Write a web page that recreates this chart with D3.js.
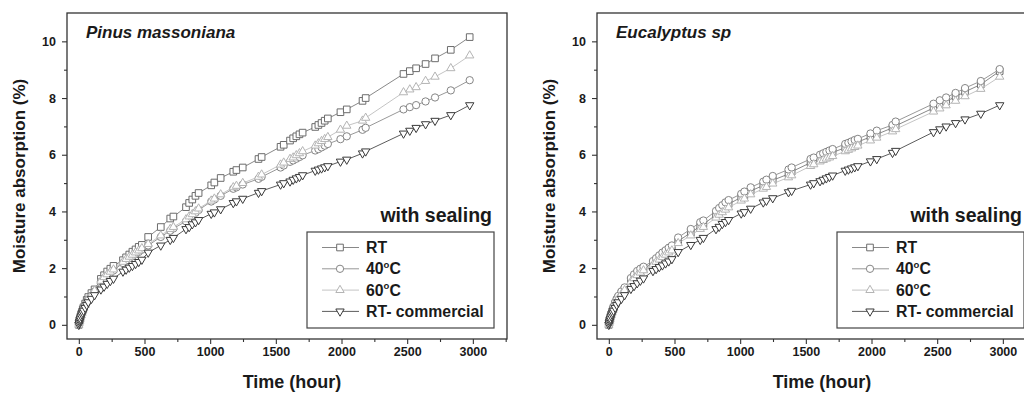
<!DOCTYPE html>
<html><head><meta charset="utf-8">
<script src="https://cdn.jsdelivr.net/npm/d3@7"></script>
<style>
body{margin:0;background:#fff}
svg{display:block}
text{font-family:Arial,"Liberation Sans",sans-serif;font-weight:bold;fill:#1a1a1a}
</style>
</head><body>
<svg id="chart" width="1024" height="399"></svg>
<script>
// ---------------- data ----------------
const times = [0,3,6,9,12,18,24,30,36,48,60,72,96,120,168,192,216,240,264,336,360,384,408,432,456,480,528,624,696,720,816,840,864,888,912,1008,1032,1080,1176,1200,1248,1368,1392,1536,1560,1608,1632,1656,1680,1704,1800,1824,1848,1872,1896,1992,2040,2160,2184,2472,2520,2568,2640,2712,2832,2976];

const pinusRT  = [0,0.08,0.15,0.22,0.28,0.38,0.46,0.55,0.62,0.75,0.88,0.98,1.12,1.25,1.62,1.75,1.88,1.98,2.08,2.28,2.38,2.48,2.58,2.66,2.75,2.82,3.1,3.45,3.75,3.82,4.15,4.3,4.42,4.55,4.65,4.92,5.02,5.18,5.4,5.46,5.55,5.85,5.92,6.28,6.35,6.5,6.58,6.65,6.72,6.78,6.98,7.05,7.12,7.2,7.28,7.5,7.6,7.9,8.0,8.85,8.95,9.05,9.2,9.4,9.7,10.15];
const pinus40  = [0,0.06,0.12,0.18,0.24,0.33,0.41,0.48,0.56,0.68,0.8,0.9,1.03,1.18,1.52,1.64,1.74,1.83,1.92,2.18,2.27,2.35,2.42,2.5,2.57,2.65,2.8,3.1,3.32,3.4,3.65,3.75,3.85,3.95,4.05,4.35,4.42,4.55,4.8,4.85,4.95,5.15,5.22,5.55,5.62,5.75,5.8,5.86,5.92,5.98,6.15,6.2,6.26,6.32,6.38,6.55,6.65,6.88,6.95,7.6,7.68,7.75,7.88,8.02,8.27,8.63];
const pinus60  = [0,0.07,0.13,0.19,0.25,0.34,0.42,0.5,0.58,0.7,0.82,0.92,1.05,1.2,1.55,1.68,1.78,1.87,1.95,2.22,2.32,2.4,2.47,2.55,2.62,2.7,2.85,3.15,3.38,3.45,3.72,3.82,3.9,4.0,4.1,4.38,4.45,4.6,4.85,4.9,5.0,5.22,5.3,5.65,5.72,5.85,5.9,5.98,6.05,6.12,6.32,6.4,6.48,6.55,6.62,6.88,7.02,7.2,7.3,8.2,8.3,8.38,8.6,8.75,9.05,9.5];
const pinusCom = [0,0.06,0.12,0.17,0.22,0.3,0.37,0.43,0.5,0.6,0.7,0.8,0.92,1.05,1.25,1.35,1.45,1.55,1.63,1.88,1.95,2.02,2.08,2.15,2.22,2.3,2.55,2.8,3.0,3.07,3.38,3.45,3.55,3.62,3.7,3.92,3.97,4.08,4.3,4.36,4.45,4.66,4.72,4.95,5.0,5.06,5.12,5.17,5.22,5.28,5.44,5.48,5.52,5.56,5.6,5.76,5.83,6.05,6.12,6.75,6.85,6.95,7.08,7.2,7.4,7.75];

const eucRT  = [0,0.07,0.14,0.2,0.27,0.36,0.45,0.53,0.6,0.74,0.86,0.96,1.12,1.25,1.58,1.7,1.82,1.9,1.98,2.18,2.28,2.37,2.46,2.55,2.63,2.7,2.95,3.25,3.48,3.55,3.88,3.98,4.08,4.18,4.26,4.5,4.57,4.72,4.92,4.98,5.1,5.32,5.4,5.72,5.78,5.88,5.93,5.98,6.03,6.08,6.25,6.3,6.35,6.4,6.45,6.63,6.72,6.95,7.02,7.65,7.77,7.88,8.05,8.22,8.48,8.95];
const euc40  = [0,0.08,0.15,0.22,0.29,0.39,0.48,0.57,0.65,0.8,0.92,1.02,1.18,1.32,1.65,1.78,1.9,1.98,2.05,2.25,2.35,2.45,2.55,2.63,2.72,2.8,3.08,3.38,3.62,3.68,4.02,4.12,4.22,4.32,4.4,4.62,4.7,4.85,5.05,5.12,5.25,5.48,5.55,5.85,5.9,6.0,6.05,6.1,6.15,6.2,6.38,6.42,6.47,6.52,6.56,6.75,6.85,7.05,7.17,7.8,7.92,8.02,8.18,8.35,8.6,9.02];
const euc60  = [0,0.07,0.13,0.19,0.26,0.35,0.43,0.51,0.58,0.72,0.84,0.93,1.08,1.22,1.52,1.64,1.75,1.84,1.92,2.12,2.22,2.3,2.39,2.47,2.55,2.62,2.88,3.15,3.38,3.45,3.78,3.88,3.97,4.06,4.14,4.38,4.45,4.6,4.8,4.86,4.98,5.2,5.27,5.6,5.66,5.76,5.81,5.86,5.9,5.95,6.12,6.17,6.22,6.27,6.32,6.5,6.6,6.82,6.9,7.52,7.63,7.74,7.9,8.06,8.32,8.75];
const eucCom = [0,0.06,0.12,0.17,0.22,0.3,0.37,0.43,0.5,0.6,0.7,0.8,0.92,1.05,1.27,1.37,1.47,1.56,1.64,1.9,1.97,2.04,2.1,2.17,2.24,2.32,2.57,2.82,3.0,3.07,3.38,3.46,3.56,3.63,3.7,3.93,3.98,4.1,4.32,4.38,4.47,4.68,4.73,4.95,5.0,5.07,5.12,5.17,5.22,5.27,5.44,5.48,5.52,5.56,5.6,5.77,5.85,6.07,6.14,6.8,6.9,7.0,7.12,7.25,7.45,7.75];

const seriesNames = [["RT",""],["40","C"],["60","C"],["RT- commercial",""]];
const panelTitles = ["Pinus massoniana","Eucalyptus sp"];
const xTicks = [0,500,1000,1500,2000,2500,3000];
const xMinor = [250,750,1250,1750,2250,2750,3250];
const yTicks = [0,2,4,6,8,10];
const yMinor = [1,3,5,7,9];
const xTitle = "Time (hour)";
const yTitle = "Moisture absorption (%)";
const noteText = "with sealing";

// ---------------- styles ----------------
const styles = [
  {stroke:"#6c6c6c", line:"#7a7a7a", sym:d3.symbolSquare, size:44, rot:0},
  {stroke:"#858585", line:"#8c8c8c", sym:d3.symbolCircle, size:42, rot:0},
  {stroke:"#b4b4b4", line:"#bdbdbd", sym:d3.symbolTriangle, size:30, rot:0},
  {stroke:"#3a3a3a", line:"#4a4a4a", sym:d3.symbolTriangle, size:30, rot:180}
];

const svg = d3.select("#chart");
svg.append("rect").attr("width",1024).attr("height",399).attr("fill","#fff");

const panels = [
  {left:67, title:panelTitles[0], data:[pinusRT,pinus40,pinus60,pinusCom]},
  {left:597, title:panelTitles[1], data:[eucRT,euc40,euc60,eucCom]}
];
const plotW = 440, plotTop = 13, plotBottom = 339;

panels.forEach(p => {
  const g = svg.append("g");
  const x = d3.scaleLinear().domain([-90,3260]).range([p.left, p.left+plotW]);
  const y = d3.scaleLinear().domain([-0.5,11]).range([plotBottom, plotTop]);

  // axes
  const ax = g.append("g").attr("transform",`translate(0,${plotBottom})`)
    .call(d3.axisBottom(x).tickValues(xTicks).tickFormat(d3.format("d")).tickSize(5).tickPadding(3));
  ax.append("g").call(d3.axisBottom(x).tickValues(xMinor).tickSize(3).tickFormat(""));
  const ay = g.append("g").attr("transform",`translate(${p.left},0)`)
    .call(d3.axisLeft(y).tickValues(yTicks).tickFormat(d3.format("d")).tickSize(5).tickPadding(6));
  ay.append("g").call(d3.axisLeft(y).tickValues(yMinor).tickSize(3).tickFormat(""));
  g.selectAll(".domain").remove();
  g.selectAll(".tick line").attr("stroke","#333").attr("stroke-width",1.1);
  g.selectAll(".tick text").attr("font-size",12.5).attr("font-weight","bold")
    .attr("font-family","Arial, 'Liberation Sans', sans-serif").attr("fill","#1a1a1a");

  // frame
  g.append("rect").attr("x",p.left).attr("y",plotTop).attr("width",plotW).attr("height",plotBottom-plotTop)
    .attr("fill","none").attr("stroke","#333").attr("stroke-width",1.3);

  // series
  p.data.forEach((vals,si) => {
    const st = styles[si];
    const pts = times.map((t,i)=>[t, vals[i]]);
    g.append("path").datum(pts)
      .attr("d", d3.line().x(d=>x(d[0])).y(d=>y(d[1])))
      .attr("fill","none").attr("stroke",st.line).attr("stroke-width",0.9);
    const sym = d3.symbol().type(st.sym).size(st.size);
    g.selectAll(null).data(pts).join("path")
      .attr("d", sym)
      .attr("transform", d=>`translate(${x(d[0])},${y(d[1])}) rotate(${st.rot})`)
      .attr("fill","#fff").attr("stroke",st.stroke).attr("stroke-width",1);
  });

  // panel title
  g.append("text").attr("x",p.left+19).attr("y",38).attr("font-size",17)
    .attr("font-style","italic").text(p.title);

  // axis titles
  g.append("text").attr("x",p.left+225).attr("y",388).attr("text-anchor","middle")
    .attr("font-size",18).text(xTitle);
  g.append("text").attr("transform",`translate(${p.left-42},176) rotate(-90)`)
    .attr("text-anchor","middle").attr("font-size",17).text(yTitle);

  // note
  g.append("text").attr("x",p.left+425).attr("y",222).attr("text-anchor","end")
    .attr("font-size",19.5).text(noteText);

  // legend
  const lx = p.left+240, ly = 232;
  g.append("rect").attr("x",lx).attr("y",ly).attr("width",187).attr("height",96)
    .attr("fill","#fff").attr("stroke","#444").attr("stroke-width",1.2);
  seriesNames.forEach((nm,i) => {
    const st = styles[i];
    const cy = 247.5 + i*21.3;
    g.append("line").attr("x1",lx+15).attr("x2",lx+52).attr("y1",cy).attr("y2",cy)
      .attr("stroke",st.line).attr("stroke-width",0.9);
    g.append("path").attr("d", d3.symbol().type(st.sym).size(st.size)())
      .attr("transform",`translate(${lx+33},${cy}) rotate(${st.rot})`)
      .attr("fill","#fff").attr("stroke",st.stroke).attr("stroke-width",1);
    const t = g.append("text").attr("x",lx+59).attr("y",cy+5.5).attr("font-size",15.8);
    t.append("tspan").text(nm[0]);
    if (nm[1]) {
      t.append("tspan").attr("font-size",9.5).attr("dy",-6.5).text("o");
      t.append("tspan").attr("dy",6.5).text(nm[1]);
    }
  });
});
</script>
</body></html>
